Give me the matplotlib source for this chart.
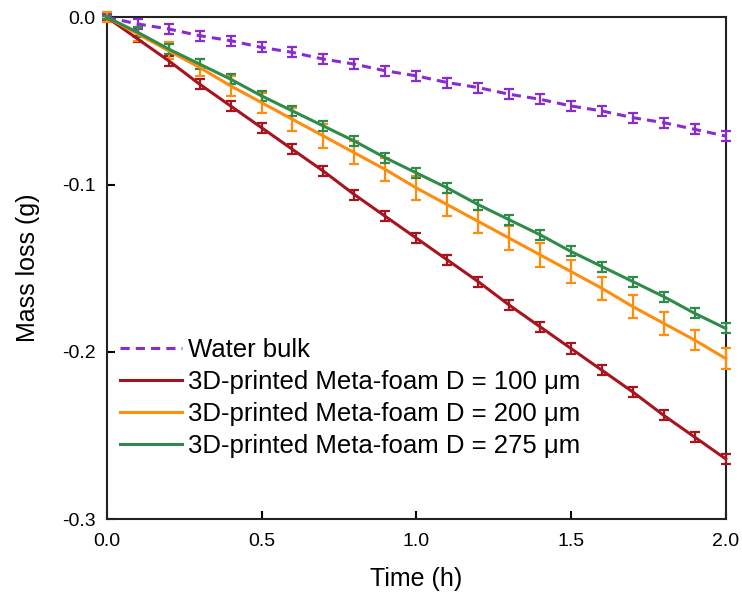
import matplotlib
matplotlib.use('Agg')
import matplotlib.pyplot as plt

plt.rcParams['font.family'] = ['Liberation Sans', 'DejaVu Sans']

time = [0.0, 0.1, 0.2, 0.3, 0.4, 0.5, 0.6, 0.7, 0.8, 0.9, 1.0,
        1.1, 1.2, 1.3, 1.4, 1.5, 1.6, 1.7, 1.8, 1.9, 2.0]

water = [0.000, -0.004, -0.007, -0.011, -0.014, -0.018, -0.021, -0.025, -0.028, -0.032, -0.035,
         -0.039, -0.042, -0.046, -0.049, -0.053, -0.056, -0.060, -0.063, -0.067, -0.071]
water_err = [0.002, 0.003, 0.003, 0.003, 0.003, 0.003, 0.003, 0.003, 0.003, 0.003, 0.003,
             0.003, 0.003, 0.003, 0.003, 0.003, 0.003, 0.003, 0.003, 0.003, 0.003]

d100 = [0.000, -0.013, -0.026, -0.040, -0.053, -0.066, -0.079, -0.092, -0.106, -0.119, -0.132,
        -0.145, -0.158, -0.172, -0.185, -0.198, -0.211, -0.224, -0.238, -0.251, -0.264]
d100_err = [0.001, 0.002, 0.003, 0.003, 0.003, 0.003, 0.003, 0.003, 0.003, 0.003, 0.003,
            0.003, 0.003, 0.003, 0.003, 0.003, 0.003, 0.003, 0.003, 0.003, 0.003]

d200 = [0.000, -0.010, -0.020, -0.030, -0.041, -0.051, -0.061, -0.071, -0.081, -0.091, -0.102,
        -0.112, -0.122, -0.132, -0.142, -0.152, -0.162, -0.173, -0.183, -0.193, -0.204]
d200_err = [0.003, 0.004, 0.005, 0.005, 0.006, 0.006, 0.007, 0.007, 0.007, 0.007, 0.007,
            0.007, 0.007, 0.007, 0.007, 0.007, 0.007, 0.007, 0.007, 0.006, 0.006]

d275 = [0.000, -0.009, -0.019, -0.028, -0.037, -0.047, -0.056, -0.065, -0.074, -0.084, -0.093,
        -0.102, -0.112, -0.121, -0.130, -0.140, -0.149, -0.158, -0.167, -0.177, -0.186]
d275_err = [0.001, 0.003, 0.003, 0.003, 0.003, 0.003, 0.003, 0.003, 0.003, 0.003, 0.003,
            0.003, 0.003, 0.003, 0.003, 0.003, 0.003, 0.003, 0.003, 0.003, 0.003]

labels = ['Water bulk',
          '3D-printed Meta-foam D = 100 \u03bcm',
          '3D-printed Meta-foam D = 200 \u03bcm',
          '3D-printed Meta-foam D = 275 \u03bcm']
colors = ['#8a2bd0', '#a8141e', '#ff8c0a', '#2e8b4a']

fig = plt.figure(figsize=(7.42, 5.96), dpi=100)
ax = fig.add_axes([0.144, 0.129, 0.834, 0.842])

series = [(water, water_err), (d100, d100_err), (d200, d200_err), (d275, d275_err)]
for (y, e), lab, c in zip(series, labels, colors):
    ls = (0, (3, 2)) if lab == 'Water bulk' else '-'
    ax.errorbar(time, y, yerr=e, color=c, lw=2.2, ls=ls, elinewidth=1.6,
                capsize=3.5, capthick=1.6, label=lab, zorder=3, clip_on=False)

ax.set_xlim(0, 2.0)
ax.set_ylim(-0.3, 0.0)
ax.set_xticks([0.0, 0.5, 1.0, 1.5, 2.0])
ax.set_yticks([-0.3, -0.2, -0.1, 0.0])
ax.set_xticklabels(['0.0', '0.5', '1.0', '1.5', '2.0'])
ax.set_yticklabels(['-0.3', '-0.2', '-0.1', '0.0'])
ax.tick_params(direction='in', length=6, width=1.5, labelsize=14, pad=8,
               top=False, right=False)
ax.tick_params(axis='x', pad=10)
for s in ax.spines.values():
    s.set_linewidth(1.5)
    s.set_color('#222222')

ax.set_xlabel('Time (h)', fontsize=18, labelpad=12)
ax.set_ylabel('Mass loss (g)', fontsize=18, labelpad=16)

handles, labs = ax.get_legend_handles_labels()
handles = [h[0] for h in handles]
ax.legend(handles, labs, loc='upper left', bbox_to_anchor=(0.021, 0.36),
          frameon=False, fontsize=18.5, handlelength=2.4, handletextpad=0.25,
          labelspacing=0.3, borderaxespad=0, borderpad=0)

fig.savefig('out.png', dpi=100)
